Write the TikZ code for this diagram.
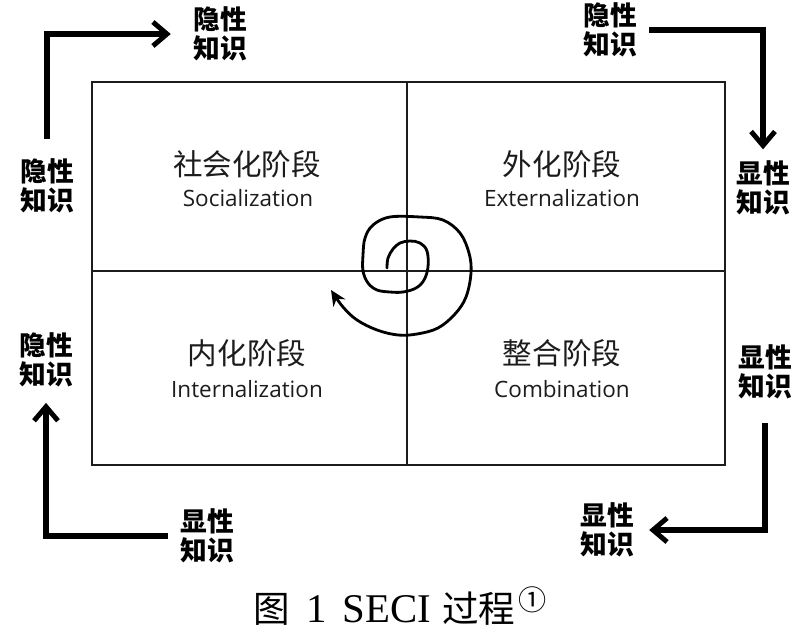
\documentclass[tikz,border=0pt]{standalone}
\usepackage{fontspec}
\setmainfont{Liberation Serif}
\newfontfamily\cjk{Noto Sans CJK SC}
\newfontfamily\lat{Open Sans}
\usetikzlibrary{arrows.meta}
\definecolor{ink}{RGB}{28,28,28}

\begin{document}
\begin{tikzpicture}[
    x=0.025cm, y=-0.025cm,
    stagecn/.style={text=ink, inner sep=0pt, font=\cjk\fontsize{21}{24}\selectfont},
    stageen/.style={text=ink, inner sep=0pt, font=\lat\fontsize{16}{19}\selectfont},
    kn/.style={align=center, inner sep=2pt, outer sep=6pt,
      font=\cjk\bfseries\fontsize{19}{21}\selectfont},
    flow/.style={-{Straight Barb[length=10pt, width=17pt, line width=3.5pt]},
      line width=4pt, line join=miter, shorten <=6pt},
    grid/.style={draw=ink, line width=0.9pt}
  ]
  \useasboundingbox (0,0) rectangle (800,631);

  % the four stages
  \draw[grid] (92,82) rectangle (725,465);
  \draw[grid] (407,82) -- (407,465);
  \draw[grid] (92,271) -- (725,271);
  \node[stagecn] (soc) at (247,164) {社会化阶段};
  \node[stageen] (soc-en) at (248,198) {Socialization};
  \node[stagecn] (ext) at (562,164) {外化阶段};
  \node[stageen] (ext-en) at (562,198) {Externalization};
  \node[stagecn] (int) at (247,353) {内化阶段};
  \node[stageen] (int-en) at (247,389) {Internalization};
  \node[stagecn] (com) at (562,353) {整合阶段};
  \node[stageen] (com-en) at (562,389) {Combination};

  % knowledge labels
  \node[kn] (tl) at (220,34) {隐性\\知识};
  \node[kn] (lu) at (47,186) {隐性\\知识};
  \node[kn] (tr) at (610,30) {隐性\\知识};
  \node[kn] (ru) at (763,188) {显性\\知识};
  \node[kn] (rl) at (765,372) {显性\\知识};
  \node[kn] (ll) at (46,360) {隐性\\知识};
  \node[kn] (bl) at (207,536) {显性\\知识};
  \node[kn] (br) at (607,530) {显性\\知识};

  \draw[flow, shorten >=8pt] (lu.north) |- (tl.west);
  \draw[flow, shorten <=1pt] (tr.east) -| (ru.north);
  \draw[flow, shorten <=9pt, shorten >=3pt] (rl.south) |- (br.east);
  \draw[flow, shorten <=1pt, shorten >=3pt] (bl.west) -| (ll.south);

  % spiral
  \draw[line width=2pt, line cap=round, -{Stealth[length=11pt, width=10pt]}]
    plot[smooth, tension=0.6] coordinates {
      (387,268) (388,258) (393,249) (400,243) (410,241) (420,243) (427,251)
      (428,267) (424,280) (416,288) (403,292) (390,292) (377,290) (368,283)
      (363,271) (363,255) (365,238) (373,225) (390,217) (420,217) (443,220)
      (460,233) (469,253) (471,273) (466,297) (455,314) (438,328) (417,334)
      (398,335) (377,330) (357,320) (343,307) (331,290)};

  % caption
  \node (cap) at (400,606) {\fontsize{29}{32}\selectfont
    {\cjk\fontsize{26}{30}\selectfont 图}\hspace{12pt}1\hspace{11pt}SECI\hspace{8pt}{\cjk\fontsize{26}{30}\selectfont 过程}\hspace{2pt}\raisebox{9pt}{\cjk\fontsize{20}{20}\selectfont ①}};
\end{tikzpicture}
\end{document}
